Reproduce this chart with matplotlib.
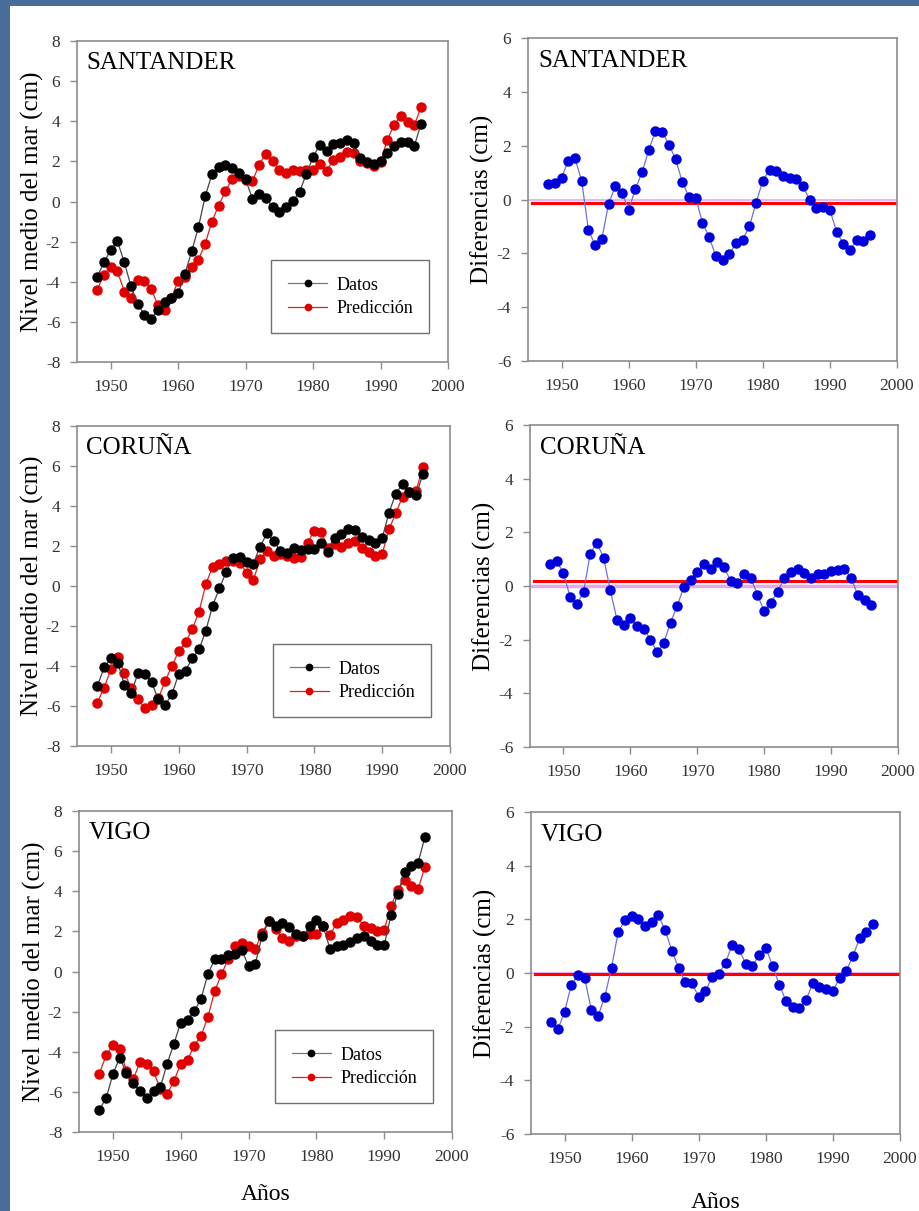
import matplotlib.pyplot as plt
from matplotlib.patches import Rectangle

plt.rcParams['font.family'] = ['Liberation Serif', 'DejaVu Serif']
plt.rcParams['axes.unicode_minus'] = False

years = list(range(1948, 1997))

stations = ["SANTANDER", "CORUÑA", "VIGO"]

# nivel medio del mar (cm): datos observados
santander_datos = [-3.74, -3.04, -2.41, -1.98, -3.02, -4.22, -5.10, -5.66, -5.85, -5.40,
                   -5.02, -4.82, -4.57, -3.60, -2.49, -1.28, 0.25, 1.35, 1.71, 1.84,
                   1.68, 1.41, 1.10, 0.13, 0.35, 0.18, -0.28, -0.51, -0.28, 0.02,
                   0.48, 1.38, 2.21, 2.84, 2.51, 2.87, 2.92, 3.07, 2.92, 2.16,
                   1.96, 1.88, 2.00, 2.43, 2.76, 2.97, 2.99, 2.76, 3.87]
coruna_datos = [-5.00, -4.07, -3.62, -3.83, -4.95, -5.33, -4.37, -4.40, -4.82, -5.67,
                -5.95, -5.40, -4.40, -4.23, -3.62, -3.17, -2.23, -0.98, -0.12, 0.70,
                1.42, 1.43, 1.18, 1.12, 1.97, 2.63, 2.25, 1.77, 1.63, 1.88,
                1.80, 1.83, 1.83, 2.13, 1.72, 2.38, 2.60, 2.83, 2.80, 2.47,
                2.30, 2.17, 2.38, 3.67, 4.60, 5.10, 4.70, 4.53, 5.60]
vigo_datos = [-6.89, -6.31, -5.12, -4.29, -5.06, -5.56, -5.96, -6.29, -5.96, -5.76,
              -4.59, -3.60, -2.55, -2.40, -1.99, -1.35, -0.14, 0.61, 0.62, 0.84,
              0.89, 1.05, 0.29, 0.39, 1.77, 2.52, 2.27, 2.43, 2.22, 1.85,
              1.75, 2.25, 2.58, 2.25, 1.14, 1.25, 1.30, 1.47, 1.69, 1.77,
              1.52, 1.30, 1.30, 2.80, 3.88, 4.96, 5.26, 5.42, 6.70]

# prediccion
santander_pred = [-4.40, -3.64, -3.27, -3.47, -4.49, -4.82, -3.90, -3.94, -4.35, -5.18,
                  -5.43, -4.82, -3.94, -3.77, -3.27, -2.91, -2.11, -1.00, -0.20, 0.51,
                  1.13, 1.26, 1.08, 1.00, 1.83, 2.38, 2.04, 1.58, 1.43, 1.59,
                  1.51, 1.58, 1.58, 1.88, 1.50, 2.08, 2.24, 2.46, 2.41, 2.04,
                  1.93, 1.79, 1.96, 3.07, 3.82, 4.25, 3.95, 3.79, 4.70]
coruna_pred = [-5.83, -5.08, -4.17, -3.53, -4.37, -5.08, -5.67, -6.12, -5.95, -5.62,
               -4.75, -4.00, -3.25, -2.82, -2.17, -1.28, 0.10, 0.97, 1.10, 1.25,
               1.27, 1.17, 0.67, 0.30, 1.33, 1.77, 1.52, 1.58, 1.50, 1.38,
               1.47, 2.17, 2.77, 2.72, 1.92, 2.08, 1.93, 2.13, 2.25, 1.92,
               1.72, 1.52, 1.60, 2.83, 3.63, 4.47, 4.72, 4.75, 5.97]
vigo_pred = [-5.09, -4.18, -3.68, -3.85, -4.96, -5.37, -4.51, -4.63, -4.98, -5.87,
             -6.09, -5.47, -4.59, -4.39, -3.71, -3.21, -2.27, -0.99, -0.14, 0.61,
             1.27, 1.42, 1.25, 1.14, 1.92, 2.52, 2.10, 1.67, 1.50, 1.77,
             1.75, 1.85, 1.89, 2.27, 1.80, 2.42, 2.58, 2.75, 2.72, 2.27,
             2.17, 2.02, 2.08, 3.25, 4.08, 4.58, 4.24, 4.10, 5.21]

# diferencias (cm)
santander_dif = [0.56, 0.61, 0.81, 1.43, 1.53, 0.69, -1.12, -1.70, -1.47, -0.18,
                 0.49, 0.25, -0.38, 0.38, 1.01, 1.83, 2.54, 2.51, 2.04, 1.50,
                 0.65, 0.09, 0.07, -0.87, -1.39, -2.11, -2.26, -2.04, -1.62, -1.49,
                 -1.00, -0.12, 0.70, 1.10, 1.05, 0.87, 0.81, 0.75, 0.49, -0.03,
                 -0.32, -0.28, -0.38, -1.21, -1.64, -1.89, -1.49, -1.56, -1.31]
coruna_dif = [0.81, 0.93, 0.47, -0.40, -0.68, -0.24, 1.21, 1.61, 1.05, -0.16,
              -1.25, -1.44, -1.21, -1.49, -1.59, -2.00, -2.46, -2.11, -1.37, -0.74,
              -0.03, 0.24, 0.53, 0.81, 0.65, 0.88, 0.69, 0.19, 0.13, 0.44,
              0.30, -0.34, -0.93, -0.62, -0.22, 0.30, 0.53, 0.62, 0.47, 0.30,
              0.43, 0.45, 0.55, 0.59, 0.63, 0.30, -0.34, -0.53, -0.72]
vigo_dif = [-1.82, -2.10, -1.45, -0.45, -0.08, -0.20, -1.38, -1.59, -0.89, 0.20,
            1.53, 1.97, 2.13, 2.00, 1.76, 1.91, 2.15, 1.59, 0.83, 0.19,
            -0.35, -0.39, -0.89, -0.68, -0.14, -0.02, 0.38, 1.06, 0.89, 0.35,
            0.27, 0.66, 0.95, 0.27, -0.43, -1.04, -1.26, -1.30, -1.01, -0.37,
            -0.51, -0.58, -0.66, -0.20, 0.08, 0.64, 1.31, 1.53, 1.83]

# media de las diferencias (linea roja)
dif_mean = [-0.13, 0.18, -0.04]

datos = [santander_datos, coruna_datos, vigo_datos]
pred = [santander_pred, coruna_pred, vigo_pred]
difs = [santander_dif, coruna_dif, vigo_dif]

W, H = 920, 1211
fig = plt.figure(figsize=(W / 100, H / 100), dpi=100, facecolor='white')
# bordes azules de la diapositiva
fig.patches.append(Rectangle((0, 0), 10 / W, 1, transform=fig.transFigure,
                             facecolor='#4a6c98', edgecolor='none'))
fig.patches.append(Rectangle((0, 1 - 6 / H), 1, 6 / H, transform=fig.transFigure,
                             facecolor='#4a6c98', edgecolor='none'))

# pixel boxes (x0, x1, ytop, ybottom)
left_boxes = [(77, 448, 41, 362), (77, 450, 426, 746), (79, 452, 811, 1132)]
right_boxes = [(528, 897, 38, 361), (530, 898, 425, 747), (531, 900, 812, 1134)]


def make_ax(box):
    x0, x1, yt, yb = box
    ax = fig.add_axes([x0 / W, 1 - yb / H, (x1 - x0) / W, (yb - yt) / H])
    for s in ax.spines.values():
        s.set_color('#8c8c8c')
        s.set_linewidth(1.2)
    ax.tick_params(direction='out', length=5, width=1, color='#8c8c8c',
                   labelsize=12.5, labelcolor='#333333', pad=7,
                   top=False, right=False)
    ax.set_xlim(1945, 2000)
    ax.set_xticks([1950, 1960, 1970, 1980, 1990, 2000])
    ax.set_facecolor('white')
    return ax


for i in range(3):
    ax = make_ax(left_boxes[i])
    ax.plot(years, datos[i], color='#444444', lw=0.9, marker='o', ms=6.5,
            mfc='black', mec='black', label='Datos', zorder=3)
    ax.plot(years, pred[i], color='#e02020', lw=0.9, marker='o', ms=6.5,
            mfc='#e00000', mec='#e00000', label='Predicción', zorder=2)
    ax.set_ylim(-8, 8)
    ax.set_yticks(range(-8, 9, 2))
    ax.set_ylabel('Nivel medio del mar (cm)', fontsize=18, labelpad=1)
    ax.text(0.025, 0.93, stations[i], transform=ax.transAxes, fontsize=18,
            va='center', ha='left')
    leg = ax.legend(loc='lower right', bbox_to_anchor=(0.95, 0.09), fontsize=13,
                    fancybox=False, framealpha=1, edgecolor='#707070',
                    handlelength=2.2, markerscale=0.7, borderpad=0.9,
                    labelspacing=0.35, handletextpad=0.5, borderaxespad=0)
    leg.get_frame().set_linewidth(1.0)
    leg.get_lines()[0].set_color('#777777')
    if i == 2:
        ax.set_xlabel('Años', fontsize=17, labelpad=14)

for i in range(3):
    ax = make_ax(right_boxes[i])
    ax.axhline(0, color='#e8a8ec', lw=2.5 if i == 1 else 1.2, zorder=1)
    ax.plot(years, difs[i], color='#7070e0', lw=0.9, marker='o', ms=6.5,
            mfc='#0000dd', mec='#0000dd', zorder=3)
    ax.axhline(dif_mean[i], xmin=0.01, xmax=0.995, color='#ff0000', lw=2.2, zorder=2)
    ax.set_ylim(-6, 6)
    ax.set_yticks(range(-6, 7, 2))
    ax.set_ylabel('Diferencias (cm)', fontsize=18, labelpad=2)
    ax.text(0.027, 0.93, stations[i], transform=ax.transAxes, fontsize=18,
            va='center', ha='left')
    if i == 2:
        ax.set_xlabel('Años', fontsize=17, labelpad=18)

fig.savefig('out.png', dpi=100, facecolor=fig.get_facecolor())
